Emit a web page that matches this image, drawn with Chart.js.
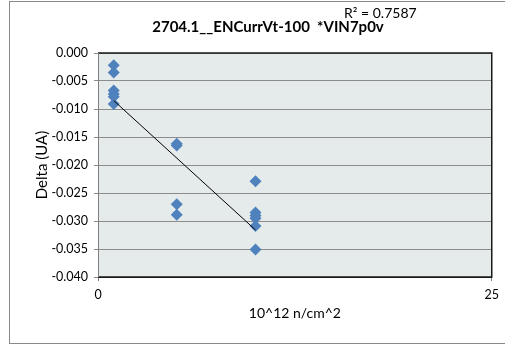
<!DOCTYPE html>
<html>
<head>
<meta charset="utf-8">
<script src="https://cdn.jsdelivr.net/npm/chart.js@4/dist/chart.umd.min.js"></script>
<style>
html,body{margin:0;padding:0;background:#fff;}
#wrap{width:505px;height:346px;position:relative;}
</style>
</head>
<body>
<div id="wrap"><canvas id="c" width="505" height="346"></canvas></div>
<script>
// Data
const fluenceX = [1, 1, 1, 1, 1, 1, 5, 5, 5, 5, 10, 10, 10, 10, 10, 10];
const deltaY = [-0.0022, -0.0035, -0.0067, -0.0073, -0.0078, -0.0091,
                -0.0162, -0.0165, -0.0270, -0.0289,
                -0.0229, -0.0285, -0.0290, -0.0295, -0.0309, -0.0351];
const trendX = [1, 10];
const trendY = [-0.0085, -0.0316];
const xTicks = [0, 25];
const yTicks = [0, -0.005, -0.010, -0.015, -0.020, -0.025, -0.030, -0.035, -0.040];
const chartTitle = '2704.1__ENCurrVt-100  *VIN7p0v';
const r2Label = 'R² = 0.7587';
const xTitle = '10^12 n/cm^2';
const yTitle = 'Delta (UA)';

const FONT = 'Lato, "Open Sans", sans-serif';

const scatterPts = fluenceX.map((x, i) => ({x: x, y: deltaY[i]}));
const trendPts = trendX.map((x, i) => ({x: x, y: trendY[i]}));

const decor = {
  id: 'decor',
  beforeDraw(chart) {
    const ctx = chart.ctx, a = chart.chartArea;
    ctx.save();
    ctx.fillStyle = '#ffffff';
    ctx.fillRect(0, 0, chart.width, chart.height);
    ctx.strokeStyle = '#8a8a8a';
    ctx.lineWidth = 1;
    ctx.strokeRect(9.5, 1.5, 500, 342);
    ctx.fillStyle = '#E5EBEB';
    ctx.fillRect(a.left, a.top, a.right - a.left, a.bottom - a.top);
    ctx.restore();
  },
  afterDatasetsDraw(chart) {
    const ctx = chart.ctx, a = chart.chartArea;
    ctx.save();
    ctx.strokeStyle = '#1a1a1a';
    ctx.lineWidth = 1.5;
    ctx.beginPath();
    ctx.moveTo(a.left, a.top);
    ctx.lineTo(a.right, a.top);
    ctx.lineTo(a.right, a.bottom);
    ctx.lineTo(a.left, a.bottom);
    ctx.stroke();
    ctx.strokeStyle = '#7f7f7f';
    ctx.lineWidth = 1;
    ctx.beginPath();
    ctx.moveTo(a.left + 0.5, a.top);
    ctx.lineTo(a.left + 0.5, a.bottom);
    ctx.stroke();
    // chart title
    ctx.fillStyle = '#000';
    ctx.font = 'bold 15px ' + FONT;
    ctx.textBaseline = 'middle';
    ctx.textAlign = 'center';
    ctx.fillText(chartTitle, 268, 27);
    // R² label
    ctx.font = '14px ' + FONT;
    ctx.textBaseline = 'alphabetic';
    ctx.textAlign = 'left';
    ctx.fillText(r2Label, 344, 18);
    ctx.restore();
  }
};

new Chart(document.getElementById('c'), {
  type: 'scatter',
  data: {
    datasets: [
      {
        label: 'Delta',
        data: scatterPts,
        pointStyle: 'rectRot',
        pointRadius: 6,
        pointHoverRadius: 6,
        backgroundColor: '#4F81BD',
        borderColor: '#4F81BD',
        borderWidth: 0,
        order: 2
      },
      {
        label: 'Trend',
        type: 'line',
        data: trendPts,
        borderColor: '#000000',
        borderWidth: 1,
        pointRadius: 0,
        fill: false,
        order: 1
      }
    ]
  },
  options: {
    responsive: false,
    animation: false,
    devicePixelRatio: 1,
    layout: {padding: {left: 10, right: 10, top: 53, bottom: 23}},
    plugins: {
      legend: {display: false},
      tooltip: {enabled: false},
      title: {display: false}
    },
    scales: {
      x: {
        type: 'linear',
        min: 0,
        max: 25,
        afterBuildTicks(scale) { scale.ticks = xTicks.map(v => ({value: v})); },
        afterFit(scale) { scale.height = 46; },
        ticks: {
          color: '#000',
          font: {family: FONT, size: 12.5},
          padding: 6,
          maxRotation: 0,
          callback: v => String(v)
        },
        grid: {display: true, drawOnChartArea: false, drawTicks: true, tickLength: 4, color: '#7f7f7f'},
        border: {display: true, color: '#1a1a1a'},
        title: {
          display: true,
          text: xTitle,
          color: '#000',
          font: {family: FONT, size: 14},
          padding: {top: 4, bottom: 1}
        }
      },
      y: {
        type: 'linear',
        min: -0.04,
        max: 0,
        afterBuildTicks(scale) { scale.ticks = yTicks.map(v => ({value: v})); },
        afterFit(scale) { scale.width = 88; },
        ticks: {
          color: '#000',
          font: {family: FONT, size: 12.5},
          padding: 6,
          callback: v => Number(v).toFixed(3)
        },
        grid: {display: true, drawOnChartArea: true, drawTicks: true, tickLength: 4, color: '#8c8c8c', lineWidth: 1},
        border: {display: true, color: '#7f7f7f'},
        title: {
          display: true,
          text: yTitle,
          color: '#000',
          font: {family: FONT, size: 15},
          padding: {top: 23, bottom: 4}
        }
      }
    }
  },
  plugins: [decor]
});
</script>
</body>
</html>
